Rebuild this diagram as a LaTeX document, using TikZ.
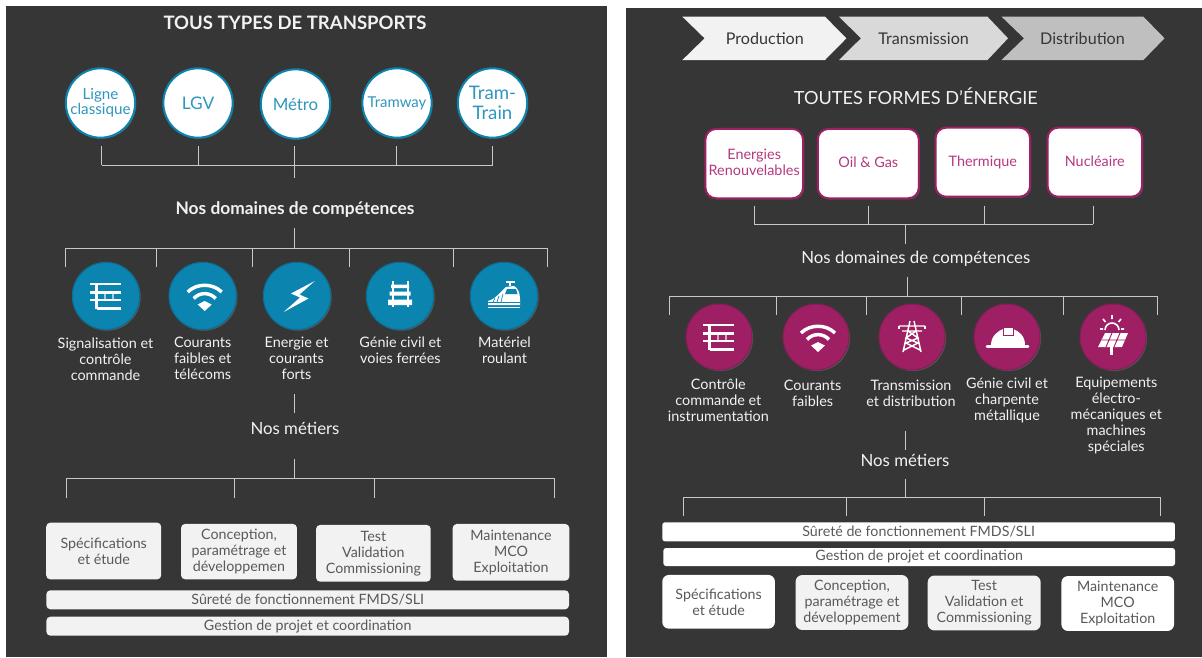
\documentclass[tikz,border=0pt]{standalone}
\usepackage{fontspec}
\setmainfont{Lato}
\usetikzlibrary{shadows}
\definecolor{panel}{HTML}{363636}
\definecolor{rail}{HTML}{C8C8C8}
\definecolor{teal}{HTML}{0B84B0}
\definecolor{tealdark}{HTML}{0D6C8F}
\definecolor{tealtext}{HTML}{2F96BE}
\definecolor{plum}{HTML}{9E1F63}
\definecolor{plumdark}{HTML}{7F1F55}
\definecolor{plumtext}{HTML}{B5397F}
\definecolor{softgray}{HTML}{F2F2F2}
\definecolor{boxtext}{HTML}{595959}
\tikzset{
  sz/.style={font=\fontsize{#1}{12}\selectfont},
  every node/.style={inner sep=0pt,align=center},
  bar/.style={draw=rail,line width=.65pt},
  caption/.style={sz=10.8,text=softgray},
  heading/.style={sz=12.6,text=softgray},
  softshadow/.style={drop shadow={opacity=.45,shadow xshift=.8pt,shadow yshift=-.8pt}},
  transport/.style={circle,fill=white,draw=teal,line width=1.5pt,minimum size=52pt,text=tealtext,softshadow},
  energy/.style={rectangle,rounded corners=8pt,fill=white,draw=plum,line width=1.5pt,sz=10.8,text=plumtext,text depth=2.2pt,softshadow},
  domainA/.style={circle,fill=teal,draw=tealdark,line width=.8pt,minimum size=50.5pt,softshadow},
  domainB/.style={circle,fill=plum,draw=plumdark,line width=.8pt,minimum size=49.5pt,softshadow},
  softbox/.style={rectangle,rounded corners=3pt,fill=softgray,sz=10.7,text=boxtext},
  whitebox/.style={softbox,fill=white,rounded corners=5pt},
  icon/.style={line width=1.9pt,draw=white},
}
\newcommand{\iconsignal}[1]{
  \begin{scope}[shift={(#1)}]
    \draw[icon] (-16,-12)--(15,-12) (-16,-3.5)--(15,-3.5) (-16,4)--(15,4) (-9.5,12.5)--(15,12.5) (-9.5,-12)--(-9.5,13);
    \draw[line width=.8pt,draw=white,opacity=.6] (-1,-3.5)--(-1,4) (7,-3.5)--(7,4);
  \end{scope}
}
\newcommand{\iconwifi}[1]{
  \begin{scope}[shift={(#1)}]
    \draw[icon,line width=2.6pt] (-15,-4) .. controls (-6,-13) and (10,-13) .. (19,-4);
    \draw[icon,line width=2.6pt] (-9,2.5) .. controls (-3,-4) and (7,-4) .. (13,2.5);
    \fill[white] (-5,8.5) -- (2,5) -- (9,8.5) -- (2,15) -- cycle;
  \end{scope}
}
\newcommand{\iconbolt}[1]{
  \begin{scope}[shift={(#1)}]
    \fill[white] (17.7,-15) -- (-6,-2.5) -- (3,1.5) -- (-13.3,16) -- (11.5,2.5) -- (2.5,-1.5) -- cycle;
  \end{scope}
}
\newcommand{\iconrail}[1]{
  \begin{scope}[shift={(#1)}]
    \fill[white] (-9,-11.5) rectangle (9,-8) (-10.5,-4.5) rectangle (10.5,-.5) (-12,3.5) rectangle (12,9);
    \draw[icon,line width=1.5pt] (-7.5,-15)--(-7.5,11) (7.5,-15)--(7.5,11);
  \end{scope}
}
\newcommand{\icontrain}[1]{
  \begin{scope}[shift={(#1)}]
    \fill[white] (-16,9) -- (-16,5) .. controls (-8,3) and (-3,-5) .. (2,-9) -- (10,-10) .. controls (14,-8) and (16,-3) .. (16,3) -- (16,9) -- cycle;
    \fill[teal] (3,-7) -- (12,-7) -- (13.5,-2) -- (1,-2) -- cycle;
    \draw[teal,line width=.5pt] (-11,6)--(-9,2) (-7,6)--(-5,0) (-3,6)--(-1,-2) (-16,6.5)--(16,6.5);
    \draw[icon,line width=1pt] (-16,11.5)--(16,11.5) (2,-14)--(11,-14) (6,-14)--(6,-10);
  \end{scope}
}
\newcommand{\icontower}[1]{
  \begin{scope}[shift={(#1)}]
    \draw[icon,line width=1.1pt] (-2,-16)--(-9,15) (2,-16)--(9,15) (-13,-11)--(13,-11) (-10,-6)--(10,-6)
      (-4,-6)--(6,1)--(-6,6)--(8,13) (4,-6)--(-6,1)--(6,6)--(-8,13);
    \draw[icon,line width=1.1pt] (-13,-11)--(-13,-8) (13,-11)--(13,-8);
  \end{scope}
}
\newcommand{\iconhelmet}[1]{
  \begin{scope}[shift={(#1)}]
    \fill[white] (-16,8) .. controls (-16,-1) and (-9,-6) .. (-4,-8) -- (6,-8) .. controls (12,-6) and (18,-1) .. (18,8) -- cycle;
    \draw[icon,line width=2.2pt,line cap=round] (-20,9.5)--(21,9.5);
    \draw[plum,fill=white,line width=.7pt] (-4,-10) rectangle (6,-2);
  \end{scope}
}
\newcommand{\iconsolar}[1]{
  \begin{scope}[shift={(#1)}]
    \draw[icon,line width=1.2pt] (-8,-7) arc (180:360:7);
    \draw[icon,line width=1.2pt] (-1,-22)--(-1,-18) (-10,-18)--(-7.5,-15) (8,-18)--(5.5,-15) (-13,-8)--(-10,-8) (11,-8)--(8,-8);
    \fill[white] (-8,-4) -- (15,-4) -- (9,10) -- (-15,10) -- cycle;
    \draw[plum,line width=.7pt] (-11.5,3)--(12,3) (-1,-4)--(-7,10) (7,-4)--(1,10);
    \draw[icon,line width=2pt] (-1.3,10)--(-1.3,18);
  \end{scope}
}
\begin{document}
\begin{tikzpicture}[x=.75pt,y=-.75pt]
  \useasboundingbox (0,0) rectangle (1202,657);
  \fill[white] (0,0) rectangle (1202,657);
  \fill[panel] (5.5,6) rectangle (607,657);
  \fill[panel] (626,8) rectangle (1202,657);

  % transports
  \node[heading,font=\fontsize{13.9}{15}\selectfont\bfseries] (titleA) at (295,23) {TOUS TYPES DE TRANSPORTS};
  \node[transport,sz=11.4] (ligne) at (100.5,103) {Ligne\\[-1pt]classique};
  \node[transport,sz=13] (lgv) at (198,103) {LGV};
  \node[transport,sz=12.6] (metro) at (295.5,104) {Métro};
  \node[transport,sz=11.2] (tramway) at (397,103) {Tramway};
  \node[transport,font=\fontsize{14}{15}\selectfont] (tramtrain) at (492.5,103) {Tram-\\Train};
  \foreach \n/\x in {1/101.5,2/198,3/294.5,4/396,5/492.5}
    \coordinate (ta\n) at (\x,146);
  \coordinate (busa) at (294.5,165);
  \coordinate (stema) at (294.5,178);
  \foreach \n in {1,2,4,5}
    \draw[bar] (ta\n) -- (ta\n |- busa);
  \draw[bar] (ta1 |- busa) -- (ta5 |- busa);
  \draw[bar] (ta3) -- (stema);

  \node[heading,font=\fontsize{13}{14}\selectfont\bfseries] (domA) at (295,210) {Nos domaines de compétences};
  \coordinate (stemb) at (294.5,228);
  \coordinate (busb) at (294.5,248);
  \foreach \n/\x in {1/65.2,2/156.7,3/252.2,4/349,5/453.2,6/547.7}
    \coordinate (tb\n) at (\x,267);
  \draw[bar] (stemb) -- (busb);
  \draw[bar] (tb1 |- busb) -- (tb6 |- busb);
  \foreach \n in {1,...,6}
    \draw[bar] (tb\n) -- (tb\n |- busb);

  \node[domainA] (sigA) at (106,296) {};
  \node[domainA] (wifiA) at (202.7,296) {};
  \node[domainA] (boltA) at (297,296) {};
  \node[domainA] (railA) at (400,296) {};
  \node[domainA] (trainA) at (504,296) {};
  \iconsignal{sigA}
  \iconwifi{wifiA}
  \iconbolt{boltA}
  \iconrail{railA}
  \icontrain{trainA}

  \node[caption] (capA1) at (105.5,359) {Signalisation et\\contrôle\\commande};
  \node[caption] (capA2) at (202.7,358) {Courants\\faibles et\\télécoms};
  \node[caption] (capA3) at (296.5,358) {Energie et\\courants\\forts};
  \node[caption] (capA4) at (400.4,350) {Génie civil et\\voies ferrées};
  \node[caption] (capA5) at (504.5,350) {Matériel\\roulant};

  \coordinate (stemc) at (294.5,394);
  \coordinate (stemd) at (294.5,413);
  \draw[bar] (stemc) -- (stemd);
  \node[heading] (metA) at (295,428) {Nos métiers};
  \coordinate (steme) at (294.5,459);
  \coordinate (busc) at (294.5,478);
  \foreach \n/\x in {1/66.2,2/234.8,3/374,4/554.2}
    \coordinate (tc\n) at (\x,498);
  \draw[bar] (steme) -- (busc);
  \draw[bar] (tc1 |- busc) -- (tc4 |- busc);
  \foreach \n in {1,...,4}
    \draw[bar] (tc\n) -- (tc\n |- busc);

  \node[softbox,minimum width=86.2pt,minimum height=42.5pt] (specA) at (103.7,551) {Spécifications\\et étude};
  \node[softbox,minimum width=86.9pt,minimum height=41.5pt] (concA) at (239,551.6) {Conception,\\paramétrage et\\développemen};
  \node[softbox,minimum width=86pt,minimum height=42.5pt] (testA) at (373.4,553.3) {Test\\Validation\\Commissioning};
  \node[softbox,minimum width=87.4pt,minimum height=42.5pt] (mainA) at (511,552.3) {Maintenance\\MCO\\Exploitation};
  \node[softbox,minimum width=392pt,minimum height=14.25pt] (surA) at (307.7,599.8) {Sûreté de fonctionnement FMDS/SLI};
  \node[softbox,minimum width=392pt,minimum height=14.25pt] (gesA) at (307.7,626.2) {Gestion de projet et coordination};

  % energie
  \foreach \xa/\xb/\xc/\xd/\shade in {682.4/825/846.4/704.6/F2F2F2,839/987.5/1008/861/D9D9D9,1001.6/1143.4/1164.5/1024/BFBFBF}{
    \definecolor{chev}{HTML}{\shade}
    \fill[chev] (\xa,16.7) -- (\xb,16.7) -- (\xc,38.3) -- (\xb,60) -- (\xa,60) -- (\xd,38.3) -- cycle;
  }
  \node[sz=12.1,text=panel] (prod) at (764.8,39) {Production};
  \node[sz=12.1,text=panel] (trans) at (923.6,39) {Transmission};
  \node[sz=12.1,text=panel] (dist) at (1082.5,39) {Distribution};

  \node[heading,font=\fontsize{13.6}{15}\selectfont] (titleB) at (915.8,96.5) {TOUTES FORMES D'ÉNERGIE};
  \node[energy,minimum width=73.2pt,minimum height=52pt] (renew) at (754.2,163.6) {Energies\\Renouvelables};
  \node[energy,minimum width=75.8pt,minimum height=52pt] (oil) at (868.3,163.6) {Oil \& Gas};
  \node[energy,minimum width=70.9pt,minimum height=51.8pt] (therm) at (982.8,162.2) {Thermique};
  \node[energy,minimum width=70.8pt,minimum height=51.8pt] (nuc) at (1094.8,162.2) {Nucléaire};
  \foreach \n/\x in {1/754.4,2/868.3,3/984.5,4/1093.3}
    \coordinate (ea\n) at (\x,205.7);
  \coordinate (busd) at (905.8,224.3);
  \coordinate (stemf) at (905.8,243.5);
  \draw[bar] (ea1 |- busd) -- (ea4 |- busd);
  \foreach \n in {1,...,4}
    \draw[bar] (ea\n) -- (ea\n |- busd);
  \draw[bar] (busd) -- (stemf);

  \node[heading] (domB) at (915.8,258.5) {Nos domaines de compétences};
  \coordinate (stemg) at (907.7,276.7);
  \coordinate (buse) at (907.7,296);
  \foreach \n/\x in {1/669,2/776.6,3/866.5,4/961,5/1063.6,6/1157}
    \coordinate (eb\n) at (\x,315);
  \draw[bar] (stemg) -- (buse);
  \draw[bar] (eb1 |- buse) -- (eb6 |- buse);
  \foreach \n in {1,...,6}
    \draw[bar] (eb\n) -- (eb\n |- buse);

  \node[domainB] (sigB) at (719,337) {};
  \node[domainB] (wifiB) at (816,337) {};
  \node[domainB] (towerB) at (912,337) {};
  \node[domainB] (helmB) at (1007,337) {};
  \node[domainB] (solarB) at (1113,337) {};
  \iconsignal{sigB}
  \iconwifi{wifiB}
  \icontower{towerB}
  \iconhelmet{helmB}
  \iconsolar{solarB}

  \node[caption] (capB1) at (718.4,400) {Contrôle\\commande et\\instrumentation};
  \node[caption] (capB2) at (812.6,393) {Courants\\faibles};
  \node[caption] (capB3) at (911,393) {Transmission\\et distribution};
  \node[caption] (capB4) at (1007,400) {Génie civil et\\charpente\\métallique};
  \node[caption] (capB5) at (1116.3,415.3) {Equipements\\électro-\\mécaniques et\\machines\\spéciales};

  \coordinate (stemh) at (905.8,431.3);
  \coordinate (stemi) at (905.8,450);
  \draw[bar] (stemh) -- (stemi);
  \node[heading] (metB) at (905,460) {Nos métiers};
  \coordinate (stemj) at (905.8,479.3);
  \coordinate (busf) at (905.8,497);
  \foreach \n/\x in {1/683,2/846.8,3/984.5,4/1160.8}
    \coordinate (ec\n) at (\x,515.7);
  \draw[bar] (stemj) -- (busf);
  \draw[bar] (ec1 |- busf) -- (ec4 |- busf);
  \foreach \n in {1,...,4}
    \draw[bar] (ec\n) -- (ec\n |- busf);

  \node[whitebox,rounded corners=2pt,minimum width=384.5pt,minimum height=14.25pt] (surB) at (918.6,531.8) {Sûreté de fonctionnement FMDS/SLI};
  \node[whitebox,rounded corners=2pt,minimum width=383.7pt,minimum height=13.5pt] (gesB) at (919.2,557) {Gestion de projet et coordination};
  \node[whitebox,minimum width=84.5pt,minimum height=40.3pt] (specB) at (718.6,601.8) {Spécifications\\et étude};
  \node[softbox,rounded corners=5pt,minimum width=84.6pt,minimum height=41.2pt] (concB) at (852,602.5) {Conception,\\paramétrage et\\développement};
  \node[softbox,rounded corners=5pt,minimum width=84.7pt,minimum height=41.2pt] (testB) at (984.2,603) {Test\\Validation et\\Commissioning};
  \node[whitebox,minimum width=84.5pt,minimum height=41.2pt] (mainB) at (1117.7,603.5) {Maintenance\\MCO\\Exploitation};
\end{tikzpicture}
\end{document}
